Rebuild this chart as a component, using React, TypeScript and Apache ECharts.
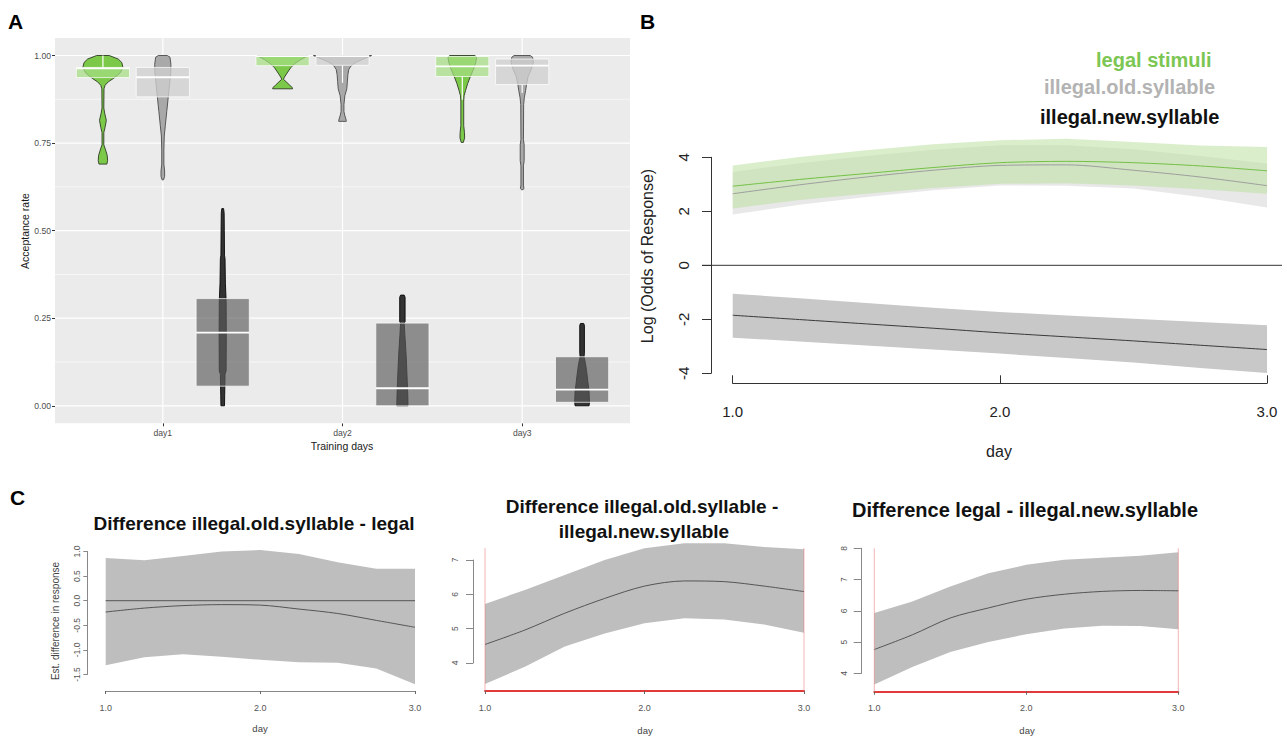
import React, { useEffect, useRef } from 'react';
import * as echarts from 'echarts';

const FONT = '"Liberation Sans", Arial, Helvetica, sans-serif';

// ---------------- Panel A: acceptance rate (violins + crossbars) ----------------
const dayLabels = ['day1', 'day2', 'day3'];
const groupNames = ['legal stimuli', 'illegal.old.syllable', 'illegal.new.syllable'];
const accTicks = [0, 0.25, 0.5, 0.75, 1];
const accMinorTicks = [0.125, 0.375, 0.625, 0.875];
const dayTicks = [1, 2, 3];

// violin profiles: [acceptance rate, half width (x units)], top to bottom
const legalViolinDay1 = [[1.0, 0.035], [0.99, 0.085], [0.98, 0.105], [0.965, 0.112], [0.95, 0.095], [0.935, 0.06], [0.925, 0.03], [0.915, 0.012], [0.905, 0.006], [0.85, 0.005], [0.835, 0.01], [0.815, 0.019], [0.795, 0.012], [0.78, 0.005], [0.745, 0.005], [0.73, 0.015], [0.715, 0.024], [0.7, 0.026], [0.69, 0.022]];
const oldViolinDay1 = [[1.0, 0.025], [0.995, 0.04], [0.975, 0.045], [0.95, 0.044], [0.92, 0.038], [0.88, 0.03], [0.84, 0.022], [0.8, 0.014], [0.77, 0.008], [0.73, 0.006], [0.69, 0.006], [0.67, 0.01], [0.655, 0.01], [0.645, 0.004]];
const newViolinDay1 = [[0.563, 0.005], [0.55, 0.008], [0.5, 0.009], [0.43, 0.01], [0.42, 0.013], [0.35, 0.015], [0.3, 0.019], [0.2, 0.02], [0.1, 0.019], [0.09, 0.013], [0.03, 0.011], [0.0, 0.01]];
const legalViolinDay2 = [[1.0, 0.142], [0.995, 0.125], [0.988, 0.1], [0.978, 0.07], [0.965, 0.045], [0.95, 0.025], [0.938, 0.01], [0.932, 0.005], [0.925, 0.02], [0.915, 0.04], [0.908, 0.055], [0.905, 0.055]];
const oldViolinDay2 = [[1.0, 0.162], [0.995, 0.14], [0.99, 0.115], [0.982, 0.08], [0.972, 0.05], [0.96, 0.035], [0.945, 0.03], [0.925, 0.027], [0.905, 0.024], [0.885, 0.013], [0.86, 0.008], [0.84, 0.008], [0.83, 0.012], [0.815, 0.021], [0.812, 0.021]];
const newViolinDay2 = [[0.316, 0.01], [0.31, 0.015], [0.24, 0.015], [0.236, 0.01], [0.2, 0.014], [0.16, 0.019], [0.12, 0.023], [0.07, 0.027], [0.03, 0.03], [0.0, 0.031]];
const legalViolinDay3 = [[1.0, 0.07], [0.995, 0.08], [0.98, 0.075], [0.96, 0.062], [0.94, 0.045], [0.92, 0.03], [0.9, 0.018], [0.885, 0.01], [0.87, 0.008], [0.8, 0.008], [0.78, 0.012], [0.765, 0.013], [0.752, 0.006]];
const oldViolinDay3 = [[1.0, 0.045], [0.995, 0.058], [0.98, 0.062], [0.96, 0.05], [0.94, 0.033], [0.92, 0.025], [0.9, 0.019], [0.88, 0.012], [0.86, 0.008], [0.76, 0.007], [0.745, 0.011], [0.7, 0.011], [0.685, 0.007], [0.63, 0.007], [0.62, 0.01], [0.617, 0.004]];
const newViolinDay3 = [[0.235, 0.009], [0.23, 0.013], [0.15, 0.013], [0.14, 0.011], [0.12, 0.019], [0.1, 0.025], [0.07, 0.032], [0.04, 0.039], [0.01, 0.041], [0.0, 0.039]];

// crossbars: [lower, middle, upper] per day
const legalBox = [[0.937, 0.963, 0.966], [0.971, 0.998, 0.999], [0.94, 0.969, 0.997]];
const oldBox = [[0.882, 0.938, 0.966], [0.972, 0.998, 0.999], [0.917, 0.971, 0.99]];
const newBox = [[0.056, 0.209, 0.306], [0.0, 0.05, 0.236], [0.01, 0.046, 0.14]];

// white whisker segments: [day, low, high]
const legalWhiskers = [[1, 0.966, 1.0], [3, 0.874, 0.94]];
const oldWhiskers = [[2, 0.922, 0.972], [3, 0.893, 0.917]];

// ---------------- Panel B: log odds of response ----------------
const bDays = [1, 1.25, 1.5, 1.75, 2, 2.25, 2.5, 2.75, 3];
const legalMean = [2.93, 3.18, 3.4, 3.62, 3.8, 3.85, 3.8, 3.68, 3.5];
const legalUpper = [3.7, 4.01, 4.26, 4.48, 4.63, 4.69, 4.57, 4.44, 4.38];
const legalLower = [2.1, 2.42, 2.65, 2.86, 3.02, 3.04, 2.96, 2.82, 2.65];
const oldMean = [2.65, 2.98, 3.27, 3.52, 3.7, 3.72, 3.52, 3.27, 2.95];
const oldUpper = [3.46, 3.78, 4.05, 4.28, 4.45, 4.45, 4.3, 4.05, 3.77];
const oldLower = [1.88, 2.24, 2.53, 2.78, 2.96, 2.95, 2.84, 2.53, 2.14];
const newMean = [-1.85, -2.01, -2.17, -2.33, -2.5, -2.65, -2.8, -2.96, -3.12];
const newUpper = [-1.05, -1.22, -1.4, -1.57, -1.73, -1.86, -1.98, -2.1, -2.22];
const newLower = [-2.68, -2.82, -2.97, -3.12, -3.27, -3.43, -3.6, -3.8, -3.99];
const bTicks = [-4, -2, 0, 2, 4];

// ---------------- Panel C: estimated differences ----------------
const cDays = [1, 1.25, 1.5, 1.75, 2, 2.25, 2.5, 2.75, 3];
const c1Mean = [-0.23, -0.15, -0.1, -0.08, -0.09, -0.17, -0.26, -0.4, -0.54];
const c1Upper = [0.87, 0.82, 0.91, 1.0, 1.03, 0.95, 0.78, 0.65, 0.65];
const c1Lower = [-1.31, -1.15, -1.09, -1.14, -1.2, -1.25, -1.26, -1.38, -1.7];
const c2Mean = [4.54, 4.96, 5.45, 5.88, 6.24, 6.39, 6.37, 6.24, 6.08];
const c2Upper = [5.72, 6.13, 6.56, 7.0, 7.34, 7.49, 7.49, 7.38, 7.31];
const c2Lower = [3.39, 3.89, 4.48, 4.86, 5.16, 5.3, 5.27, 5.12, 4.88];
const c3Mean = [4.76, 5.23, 5.77, 6.09, 6.37, 6.53, 6.62, 6.65, 6.64];
const c3Upper = [5.93, 6.3, 6.78, 7.2, 7.47, 7.63, 7.7, 7.76, 7.87];
const c3Lower = [3.64, 4.2, 4.68, 5.0, 5.25, 5.43, 5.52, 5.51, 5.41];
const cTitles = ['Difference illegal.old.syllable - legal', 'Difference illegal.old.syllable -', 'illegal.new.syllable', 'Difference legal - illegal.new.syllable'];

// ---------------- derived tables ----------------
const violins = [
  [legalViolinDay1, oldViolinDay1, newViolinDay1],
  [legalViolinDay2, oldViolinDay2, newViolinDay2],
  [legalViolinDay3, oldViolinDay3, newViolinDay3],
];
const boxes = [legalBox, oldBox, newBox];
const DODGE = 1 / 3;
const BOX_HALF = 0.148;
const violinFill = ['#7CC94A', '#A9A9A9', '#333333'];
const violinStroke = ['#2E3A24', '#4A4A4A', '#080808'];
const boxFill = ['rgba(165,222,130,0.72)', 'rgba(208,208,208,0.78)', 'rgba(92,92,92,0.66)'];

function hLines(values: number[], xi: number, yi: number, color: string, width: number, z: number) {
  return {
    type: 'custom', xAxisIndex: xi, yAxisIndex: yi, z, silent: true, clip: false,
    data: values.map((v) => [0, v]),
    renderItem: (params: any, api: any) => {
      const cs = params.coordSys;
      const y = api.coord([api.value(0), api.value(1)])[1];
      return { type: 'line', shape: { x1: cs.x, y1: y, x2: cs.x + cs.width, y2: y }, style: { stroke: color, lineWidth: width } };
    },
  };
}
function vLines(values: number[], xi: number, yi: number, color: string, width: number, z: number) {
  return {
    type: 'custom', xAxisIndex: xi, yAxisIndex: yi, z, silent: true, clip: false,
    data: values.map((v) => [v, 0]),
    renderItem: (params: any, api: any) => {
      const cs = params.coordSys;
      const x = api.coord([api.value(0), api.value(1)])[0];
      return { type: 'line', shape: { x1: x, y1: cs.y, x2: x, y2: cs.y + cs.height }, style: { stroke: color, lineWidth: width } };
    },
  };
}
function band(xs: number[], lo: number[], hi: number[], fill: string, xi: number, yi: number, z: number) {
  return {
    type: 'custom', xAxisIndex: xi, yAxisIndex: yi, z, silent: true, clip: false,
    data: [[xs[0], lo[0]]],
    renderItem: (params: any, api: any) => {
      const pts: number[][] = [];
      for (let i = 0; i < xs.length; i++) pts.push(api.coord([xs[i], hi[i]]));
      for (let i = xs.length - 1; i >= 0; i--) pts.push(api.coord([xs[i], lo[i]]));
      return { type: 'polygon', shape: { points: pts }, style: { fill } };
    },
  };
}
function meanLine(xs: number[], ys: number[], color: string, xi: number, yi: number, z: number, width = 1) {
  return {
    type: 'line', xAxisIndex: xi, yAxisIndex: yi, z, silent: true, clip: false,
    data: xs.map((x, i) => [x, ys[i]]), smooth: 0.3, symbol: 'none',
    lineStyle: { color, width }, animation: false,
  };
}

function buildOption() {
  const violinItems: number[][] = [];
  const boxItems: number[][] = [];
  for (let d = 0; d < 3; d++) {
    for (let g = 0; g < 3; g++) {
      violinItems.push([d + 1, g]);
      const b = boxes[g][d];
      boxItems.push([d + 1, b[0], b[1], b[2], g]);
    }
  }
  const whiskerItems = [
    ...legalWhiskers.map((w) => [w[0], w[1], w[2], 0]),
    ...oldWhiskers.map((w) => [w[0], w[1], w[2], 1]),
  ];

  const series: any[] = [
    // Panel A gridlines
    hLines(accMinorTicks, 0, 0, '#FFFFFF', 0.6, 1),
    hLines(accTicks, 0, 0, '#FFFFFF', 1.2, 1),
    vLines(dayTicks, 0, 0, '#FFFFFF', 1.2, 1),
    {
      type: 'custom', name: 'violins', xAxisIndex: 0, yAxisIndex: 0, z: 2, silent: true,
      data: violinItems,
      renderItem: (params: any, api: any) => {
        const d = api.value(0);
        const g = api.value(1);
        const prof = violins[d - 1][g];
        const xc = d + DODGE * (g - 1);
        const pts: number[][] = [];
        for (let i = 0; i < prof.length; i++) pts.push(api.coord([xc - prof[i][1], prof[i][0]]));
        for (let i = prof.length - 1; i >= 0; i--) pts.push(api.coord([xc + prof[i][1], prof[i][0]]));
        return { type: 'polygon', shape: { points: pts }, style: { fill: violinFill[g], stroke: violinStroke[g], lineWidth: 0.9 } };
      },
    },
    {
      type: 'custom', name: 'boxes', xAxisIndex: 0, yAxisIndex: 0, z: 3, silent: true,
      data: boxItems,
      renderItem: (params: any, api: any) => {
        const d = api.value(0);
        const g = api.value(4);
        const xc = d + DODGE * (g - 1);
        const p1 = api.coord([xc - BOX_HALF, api.value(3)]);
        const p2 = api.coord([xc + BOX_HALF, api.value(1)]);
        const pm = api.coord([xc - BOX_HALF, api.value(2)]);
        return {
          type: 'group',
          children: [
            { type: 'rect', shape: { x: p1[0], y: p1[1], width: p2[0] - p1[0], height: Math.max(p2[1] - p1[1], 1) }, style: { fill: boxFill[g], stroke: 'rgba(255,255,255,0.9)', lineWidth: 0.8 } },
            { type: 'line', shape: { x1: p1[0], y1: pm[1], x2: p2[0], y2: pm[1] }, style: { stroke: '#FFFFFF', lineWidth: 1.8 } },
          ],
        };
      },
    },
    {
      type: 'custom', name: 'whiskers', xAxisIndex: 0, yAxisIndex: 0, z: 4, silent: true,
      data: whiskerItems,
      renderItem: (params: any, api: any) => {
        const xc = api.value(0) + DODGE * (api.value(3) - 1);
        const a = api.coord([xc, api.value(1)]);
        const b = api.coord([xc, api.value(2)]);
        return { type: 'line', shape: { x1: a[0], y1: a[1], x2: b[0], y2: b[1] }, style: { stroke: '#FFFFFF', lineWidth: 1.2 } };
      },
    },
    // Panel B
    hLines([0], 1, 1, '#333333', 1, 5),
    band(bDays, oldLower, oldUpper, 'rgba(205,205,205,0.45)', 1, 1, 2),
    band(bDays, legalLower, legalUpper, 'rgba(188,224,160,0.55)', 1, 1, 3),
    band(bDays, newLower, newUpper, '#C8C8C8', 1, 1, 3),
    meanLine(bDays, oldMean, '#9E9E9E', 1, 1, 6),
    meanLine(bDays, legalMean, '#74C045', 1, 1, 7),
    meanLine(bDays, newMean, '#3A3A3A', 1, 1, 7),
    // Panel C1
    band(cDays, c1Lower, c1Upper, '#BEBEBE', 3, 3, 2),
    hLines([0], 3, 3, '#555555', 1, 5),
    meanLine(cDays, c1Mean, '#555555', 3, 3, 6),
    // Panel C2
    band(cDays, c2Lower, c2Upper, '#BEBEBE', 4, 4, 2),
    meanLine(cDays, c2Mean, '#555555', 4, 4, 6),
    vLines([cDays[0], cDays[cDays.length - 1]], 4, 4, 'rgba(235,120,120,0.55)', 1, 5),
    // Panel C3
    band(cDays, c3Lower, c3Upper, '#BEBEBE', 6, 6, 2),
    meanLine(cDays, c3Mean, '#555555', 6, 6, 6),
    vLines([cDays[0], cDays[cDays.length - 1]], 6, 6, 'rgba(235,120,120,0.55)', 1, 5),
  ];

  const gridBase = { outerBoundsMode: 'none', containLabel: false, borderWidth: 0 };
  const grid = [
    { ...gridBase, left: 55, top: 38, width: 575, height: 385.3, show: true, backgroundColor: '#EBEBEB' },
    { ...gridBase, left: 702, top: 157.3, width: 580, height: 216 },
    { ...gridBase, left: 732.7, top: 157.3, width: 534.3, height: 216 },
    { ...gridBase, left: 105.7, top: 551.5, width: 309.3, height: 123 },
    { ...gridBase, left: 485, top: 548, width: 319, height: 143 },
    { ...gridBase, left: 485, top: 560, width: 319, height: 103 },
    { ...gridBase, left: 874.3, top: 548.3, width: 304, height: 143.4 },
    { ...gridBase, left: 874.3, top: 548.3, width: 304, height: 125 },
  ];

  const cXAxis = (gi: number, offset: number, lineColor: string, lineWidth: number) => ({
    gridIndex: gi, type: 'value', min: 1, max: 3, interval: 1, offset,
    axisLine: { show: true, onZero: false, lineStyle: { color: lineColor, width: lineWidth } },
    axisTick: { show: true, length: 3, lineStyle: { color: '#666' } },
    axisLabel: { formatter: (v: number) => v.toFixed(1), fontSize: 9, color: '#555', margin: 12, fontFamily: FONT },
    splitLine: { show: false },
  });
  const hiddenX = (gi: number, min: number, max: number) => ({ gridIndex: gi, type: 'value', min, max, show: false, axisLine: { onZero: false }, splitLine: { show: false } });
  const hiddenY = (gi: number, min: number, max: number) => ({ gridIndex: gi, type: 'value', min, max, show: false, axisLine: { onZero: false }, splitLine: { show: false } });
  const cYAxis = (gi: number, min: number, max: number, interval: number, offset: number, tickLen: number, margin: number, digits: number) => ({
    gridIndex: gi, type: 'value', min, max, interval, offset,
    axisLine: { show: true, onZero: false, lineStyle: { color: '#888' } },
    axisTick: { show: true, length: tickLen, lineStyle: { color: '#888' } },
    axisLabel: { rotate: 90, fontSize: 8.5, color: '#555', margin, fontFamily: FONT, formatter: (v: number) => v.toFixed(digits) },
    splitLine: { show: false },
  });

  const xAxis = [
    {
      gridIndex: 0, type: 'value', min: 0.4, max: 3.6,
      axisLine: { show: false, onZero: false }, splitLine: { show: false },
      axisTick: { show: true, customValues: dayTicks, length: 3, lineStyle: { color: '#333' } },
      axisLabel: { customValues: dayTicks, formatter: (v: number) => dayLabels[Math.round(v) - 1] || '', fontSize: 8.6, color: '#4D4D4D', margin: 5, fontFamily: FONT },
    },
    hiddenX(1, 0.885, 3.056),
    {
      gridIndex: 2, type: 'value', min: 1, max: 3, interval: 1, offset: 10,
      axisLine: { show: true, onZero: false, lineStyle: { color: '#333' } },
      axisTick: { show: true, inside: true, length: 8, lineStyle: { color: '#333' } },
      axisLabel: { formatter: (v: number) => v.toFixed(1), fontSize: 15, color: '#222', margin: 21, fontFamily: FONT },
      splitLine: { show: false },
    },
    cXAxis(3, 16.5, '#888', 1),
    cXAxis(4, 0, '#E03A3A', 2),
    hiddenX(5, 1, 3),
    cXAxis(6, 0, '#E03A3A', 2),
    hiddenX(7, 1, 3),
  ];

  const yAxis = [
    {
      gridIndex: 0, type: 'value', min: -0.05, max: 1.05,
      axisLine: { show: false, onZero: false }, splitLine: { show: false },
      axisTick: { show: true, customValues: accTicks, length: 3, lineStyle: { color: '#333' } },
      axisLabel: { customValues: accTicks, formatter: (v: number) => v.toFixed(2), fontSize: 8.6, color: '#4D4D4D', margin: 4, fontFamily: FONT },
    },
    {
      gridIndex: 1, type: 'value', min: bTicks[0], max: bTicks[bTicks.length - 1], interval: 2, offset: -9,
      axisLine: { show: true, onZero: false, lineStyle: { color: '#333' } },
      axisTick: { show: true, length: 9, lineStyle: { color: '#333' } },
      axisLabel: { rotate: 90, fontSize: 15, color: '#222', margin: 20, fontFamily: FONT },
      splitLine: { show: false },
    },
    hiddenY(2, -4, 4),
    cYAxis(3, -1.5, 1, 0.5, 18.4, 4, 6, 1),
    hiddenY(4, 3.184, 7.35),
    cYAxis(5, 4, 7, 1, 12, 7, 14, 0),
    hiddenY(6, 3.41, 8),
    cYAxis(7, 4, 8, 1, 12.6, 8, 13, 0),
  ];

  const txt = (x: number, y: number, text: string, size: number, opts: any = {}) => ({
    type: 'text', x, y, rotation: opts.rot ? Math.PI / 2 : 0, silent: true,
    style: {
      text, fontSize: size, fontWeight: opts.weight || 'normal', fontFamily: FONT,
      fill: opts.color || '#222', align: opts.align || 'center', verticalAlign: 'middle',
    },
  });

  const graphic = [
    txt(8, 21, 'A', 21, { weight: 'bold', color: '#000', align: 'left' }),
    txt(640, 21, 'B', 21, { weight: 'bold', color: '#000', align: 'left' }),
    txt(10, 497, 'C', 21, { weight: 'bold', color: '#000', align: 'left' }),
    txt(25, 231, 'Acceptance rate', 10.5, { rot: true, color: '#1A1A1A' }),
    txt(342, 446, 'Training days', 10.5, { color: '#1A1A1A' }),
    txt(647, 256, 'Log (Odds of Response)', 16, { rot: true }),
    txt(999, 451, 'day', 16),
    txt(1096, 60, groupNames[0], 20, { weight: 'bold', color: '#7CC653', align: 'left' }),
    txt(1044, 87, groupNames[1], 20, { weight: 'bold', color: '#B3B3B3', align: 'left' }),
    txt(1040, 117, groupNames[2], 20, { weight: 'bold', color: '#111', align: 'left' }),
    txt(254, 523, cTitles[0], 19, { weight: 'bold', color: '#111' }),
    txt(642, 506, cTitles[1], 19, { weight: 'bold', color: '#111' }),
    txt(644, 531, cTitles[2], 19, { weight: 'bold', color: '#111' }),
    txt(1025, 510, cTitles[3], 20, { weight: 'bold', color: '#111' }),
    txt(55, 621, 'Est. difference in response', 10, { rot: true, color: '#444' }),
    txt(260, 728, 'day', 9.5, { color: '#444' }),
    txt(645, 730, 'day', 9.5, { color: '#444' }),
    txt(1027, 730, 'day', 9.5, { color: '#444' }),
  ];

  return {
    animation: false,
    backgroundColor: '#FFFFFF',
    textStyle: { fontFamily: FONT },
    grid, xAxis, yAxis, series, graphic,
  };
}

export default function App() {
  const ref = useRef<HTMLDivElement>(null);
  useEffect(() => {
    if (!ref.current) return;
    const chart = echarts.init(ref.current, null, { renderer: 'svg' });
    chart.setOption(buildOption() as any);
    return () => chart.dispose();
  }, []);
  return <div ref={ref} style={{ position: 'absolute', left: 0, top: 0, width: 1287, height: 738, background: '#fff' }} />;
}
